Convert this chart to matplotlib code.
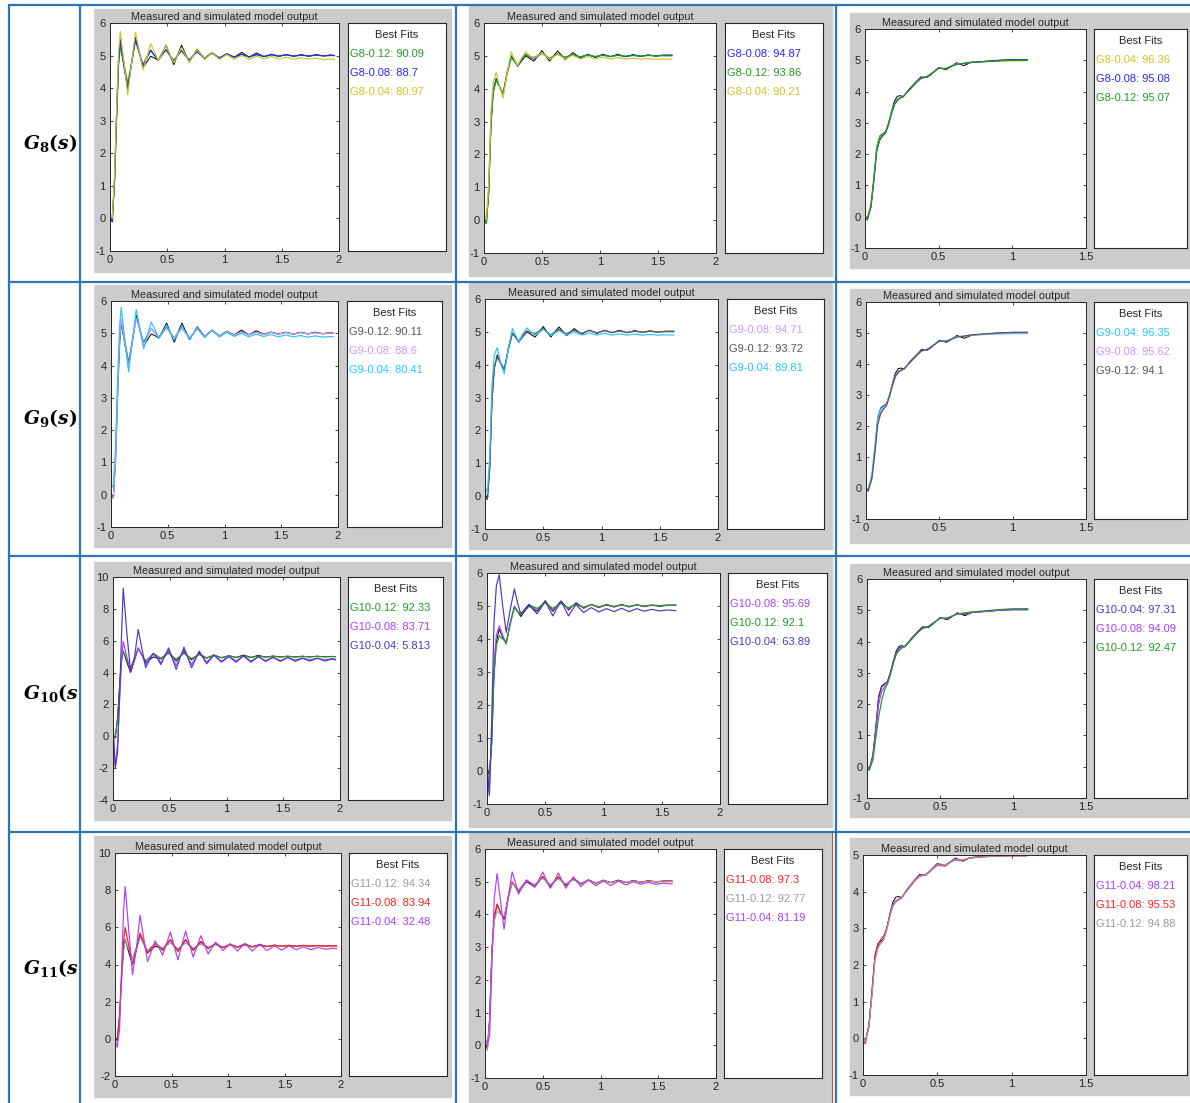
import matplotlib.pyplot as plt
from matplotlib.patches import Rectangle

W, H = 1190, 1103

# ---- data ----
models = ['G8', 'G9', 'G10', 'G11']
steps = ['0.12', '0.08', '0.04']

# time grids (s) of the three columns
t_col1 = [0.0, 0.02, 0.04, 0.06, 0.075, 0.09, 0.122, 0.155, 0.19, 0.222, 0.255, 0.288, 0.322, 0.355, 0.39, 0.422,
          0.455, 0.49, 0.523, 0.557, 0.59, 0.625, 0.658, 0.692, 0.726, 0.76, 0.792, 0.825, 0.857, 0.89,
          0.955, 1.02, 1.085, 1.15, 1.215, 1.28, 1.345, 1.41, 1.475, 1.54, 1.605, 1.67, 1.735, 1.80, 1.865, 1.93, 1.96]
t_col2 = [0.0, 0.02, 0.04, 0.06, 0.08, 0.105, 0.135, 0.165, 0.2, 0.235, 0.262, 0.29, 0.325, 0.36, 0.395, 0.43,
          0.465, 0.5, 0.532, 0.565, 0.6, 0.635, 0.668, 0.7, 0.732, 0.765, 0.797, 0.83, 0.862, 0.895,
          0.96, 1.025, 1.09, 1.155, 1.22, 1.285, 1.35, 1.415, 1.48, 1.545, 1.62]
t_col3 = [0.0, 0.015, 0.04, 0.06, 0.08, 0.1, 0.12, 0.14, 0.16, 0.18,
          0.2, 0.22, 0.24, 0.26, 0.3, 0.35, 0.38, 0.42, 0.45, 0.5,
          0.55, 0.6, 0.62, 0.67, 0.72, 0.8, 0.9, 1.0, 1.1]

# measured output (black), same in every row of a column
meas_c1 = [0.05, -0.1, 1.2, 3.4, 4.8, 5.35, 4.65, 4.0, 4.8, 5.55, 5.1, 4.63, 4.8, 4.98, 4.92, 4.85,
           5.08, 5.32, 5.02, 4.72, 5.02, 5.32, 5.06, 4.8, 5.0, 5.2, 5.05, 4.9, 5.0, 5.1,
           4.92, 5.06, 4.95, 5.1, 4.95, 5.08, 4.97, 5.04, 4.98, 5.03, 4.98, 5.03, 4.98, 5.03, 4.99, 5.02, 5.0]
meas_c2 = [0.1, -0.1, 0.8, 2.9, 3.9, 4.3, 4.05, 3.85, 4.5, 4.97, 4.85, 4.68, 4.85, 5.0, 4.92, 4.84,
           5.0, 5.16, 5.0, 4.84, 5.0, 5.15, 5.02, 4.88, 4.99, 5.1, 5.02, 4.93, 4.99, 5.05,
           4.95, 5.05, 4.97, 5.05, 4.97, 5.04, 4.98, 5.03, 4.99, 5.02, 5.02]
meas_c3 = [0.0, -0.1, 0.35, 1.2, 2.25, 2.58, 2.65, 2.72, 3.0, 3.37,
           3.7, 3.85, 3.87, 3.83, 4.08, 4.33, 4.47, 4.45, 4.55, 4.77,
           4.7, 4.85, 4.92, 4.83, 4.93, 4.96, 5.0, 5.02, 5.02]

# --- G8 ---
g8_c1_012 = [0.05, 0.0, 1.1, 3.3, 4.7, 5.3, 4.75, 4.15, 4.8, 5.45, 5.1, 4.73, 4.95, 5.15, 5.0, 4.87,
             5.03, 5.18, 5.0, 4.85, 5.0, 5.15, 5.0, 4.86, 5.0, 5.13, 5.02, 4.9, 4.99, 5.08,
             4.92, 5.05, 4.95, 5.04, 4.96, 5.03, 4.97, 5.02, 4.98, 5.02, 4.98, 5.01, 4.99, 5.01, 4.99, 5.0, 5.0]
g8_c1_008 = [0.0, -0.1, 1.2, 3.5, 4.9, 5.5, 4.7, 3.95, 4.8, 5.5, 5.1, 4.68, 4.93, 5.17, 5.0, 4.85,
             5.02, 5.18, 5.01, 4.84, 5.0, 5.15, 5.0, 4.86, 4.99, 5.12, 5.01, 4.9, 4.99, 5.07,
             4.93, 5.04, 4.95, 5.04, 4.96, 5.03, 4.97, 5.03, 4.98, 5.03, 4.98, 5.02, 4.98, 5.02, 4.99, 5.01, 5.0]
g8_c1_004 = [0.2, 0.0, 1.4, 3.7, 5.1, 5.75, 4.8, 3.8, 4.8, 5.72, 5.15, 4.56, 4.95, 5.37, 5.1, 4.84,
             5.07, 5.3, 5.04, 4.78, 5.01, 5.25, 5.02, 4.8, 5.0, 5.2, 5.03, 4.87, 4.98, 5.1,
             4.88, 5.03, 4.89, 5.0, 4.88, 4.98, 4.9, 4.97, 4.9, 4.95, 4.89, 4.93, 4.89, 4.92, 4.88, 4.89, 4.88]
g8_c2_012 = [0.0, -0.1, 0.8, 2.9, 3.9, 4.25, 4.05, 3.85, 4.45, 4.95, 4.83, 4.72, 4.9, 5.02, 4.98, 4.95,
             5.02, 5.08, 5.0, 4.92, 4.99, 5.06, 5.0, 4.95, 5.0, 5.04, 5.0, 4.97, 5.0, 5.03,
             4.98, 5.02, 4.98, 5.02, 4.99, 5.01, 4.99, 5.01, 5.0, 5.0, 5.0]
g8_c2_008 = [0.0, -0.05, 0.9, 3.0, 4.0, 4.3, 4.05, 3.85, 4.5, 5.0, 4.85, 4.7, 4.88, 5.05, 4.97, 4.9,
             4.99, 5.08, 5.0, 4.92, 4.99, 5.06, 5.0, 4.95, 5.0, 5.04, 5.0, 4.96, 5.0, 5.03,
             4.97, 5.03, 4.98, 5.02, 4.98, 5.02, 4.99, 5.02, 5.0, 5.02, 5.02]
g8_c2_004 = [0.3, 0.0, 1.1, 3.3, 4.2, 4.5, 4.05, 3.72, 4.5, 5.12, 4.9, 4.7, 4.95, 5.12, 5.0, 4.92,
             5.01, 5.1, 5.0, 4.9, 4.97, 5.05, 4.98, 4.9, 4.96, 5.02, 4.96, 4.9, 4.94, 4.98,
             4.9, 4.97, 4.9, 4.95, 4.9, 4.93, 4.9, 4.92, 4.9, 4.9, 4.9]
g8_c3_012 = [0.05, -0.08, 0.3, 1.15, 2.15, 2.5, 2.6, 2.68, 2.95, 3.3,
             3.6, 3.75, 3.8, 3.85, 4.05, 4.3, 4.43, 4.47, 4.57, 4.74,
             4.73, 4.84, 4.87, 4.9, 4.93, 4.95, 4.98, 5.0, 5.0]
g8_c3_008 = [0.0, -0.1, 0.3, 1.15, 2.1, 2.45, 2.58, 2.68, 2.95, 3.3,
             3.58, 3.72, 3.8, 3.85, 4.05, 4.3, 4.42, 4.47, 4.57, 4.75,
             4.73, 4.83, 4.87, 4.9, 4.94, 4.96, 4.99, 5.01, 5.02]
g8_c3_004 = [0.05, -0.05, 0.4, 1.3, 2.25, 2.55, 2.62, 2.7, 3.0, 3.35,
             3.62, 3.75, 3.8, 3.85, 4.05, 4.3, 4.42, 4.48, 4.58, 4.75,
             4.75, 4.85, 4.88, 4.9, 4.93, 4.95, 4.97, 4.98, 4.98]

# --- G9 ---
g9_c1_012 = [0.0, -0.1, 1.0, 3.2, 4.6, 5.3, 4.75, 4.1, 4.8, 5.5, 5.1, 4.72, 4.95, 5.15, 5.0, 4.87,
             5.03, 5.2, 5.02, 4.85, 5.02, 5.2, 5.02, 4.85, 5.0, 5.15, 5.02, 4.9, 4.99, 5.08,
             4.92, 5.06, 4.95, 5.05, 4.96, 5.04, 4.96, 5.03, 4.97, 5.03, 4.97, 5.03, 4.98, 5.03, 4.98, 5.02, 5.0]
g9_c1_008 = [-0.1, -0.1, 1.1, 3.4, 4.8, 5.45, 4.7, 3.95, 4.8, 5.45, 5.1, 4.65, 4.9, 5.15, 5.0, 4.85,
             5.0, 5.15, 5.0, 4.85, 5.0, 5.15, 5.0, 4.86, 4.99, 5.12, 5.01, 4.9, 4.99, 5.08,
             4.92, 5.05, 4.94, 5.04, 4.95, 5.03, 4.96, 5.03, 4.97, 5.02, 4.98, 5.02, 4.98, 5.01, 4.99, 5.01, 5.0]
g9_c1_004 = [0.2, 0.3, 1.5, 3.8, 5.2, 5.8, 4.8, 3.8, 4.8, 5.73, 5.15, 4.52, 4.95, 5.35, 5.1, 4.84,
             5.05, 5.25, 5.02, 4.8, 5.01, 5.22, 5.02, 4.82, 5.0, 5.18, 5.02, 4.86, 4.98, 5.1,
             4.88, 5.03, 4.9, 5.0, 4.89, 4.98, 4.9, 4.96, 4.89, 4.95, 4.89, 4.93, 4.88, 4.92, 4.88, 4.9, 4.89]
g9_c2_012 = [0.0, -0.1, 0.8, 2.9, 3.9, 4.25, 4.05, 3.85, 4.45, 4.95, 4.83, 4.72, 4.9, 5.02, 4.98, 4.95,
             5.02, 5.1, 5.0, 4.9, 4.99, 5.08, 5.0, 4.93, 5.0, 5.06, 5.0, 4.95, 5.0, 5.05,
             4.97, 5.04, 4.98, 5.03, 4.98, 5.02, 4.99, 5.02, 5.0, 5.01, 5.01]
g9_c2_008 = [-0.1, -0.1, 0.9, 3.0, 4.0, 4.2, 4.0, 3.8, 4.45, 4.95, 4.83, 4.7, 4.88, 5.05, 4.97, 4.9,
             4.99, 5.08, 5.0, 4.92, 4.99, 5.06, 5.0, 4.95, 5.0, 5.04, 5.0, 4.96, 5.0, 5.03,
             4.97, 5.03, 4.98, 5.02, 4.98, 5.01, 4.99, 5.01, 5.0, 5.0, 5.0]
g9_c2_004 = [0.3, 0.1, 1.2, 3.4, 4.3, 4.52, 4.05, 3.72, 4.5, 5.1, 4.9, 4.7, 4.95, 5.12, 5.0, 4.9,
             4.99, 5.08, 4.98, 4.88, 4.96, 5.04, 4.97, 4.9, 4.95, 5.0, 4.95, 4.9, 4.93, 4.97,
             4.9, 4.96, 4.9, 4.94, 4.9, 4.93, 4.9, 4.92, 4.9, 4.91, 4.9]
g9_c3_012 = [0.0, -0.1, 0.3, 1.1, 2.05, 2.4, 2.55, 2.66, 2.95, 3.3,
             3.6, 3.75, 3.8, 3.85, 4.05, 4.3, 4.43, 4.47, 4.57, 4.74,
             4.73, 4.84, 4.87, 4.9, 4.94, 4.97, 5.0, 5.02, 5.02]
g9_c3_008 = [0.0, -0.1, 0.3, 1.15, 2.1, 2.45, 2.58, 2.68, 2.95, 3.3,
             3.58, 3.7, 3.78, 3.83, 4.05, 4.3, 4.42, 4.47, 4.57, 4.73,
             4.73, 4.83, 4.87, 4.9, 4.93, 4.96, 4.99, 5.0, 5.0]
g9_c3_004 = [0.0, -0.05, 0.45, 1.35, 2.3, 2.55, 2.62, 2.7, 3.0, 3.35,
             3.62, 3.75, 3.8, 3.85, 4.05, 4.32, 4.43, 4.48, 4.58, 4.75,
             4.75, 4.85, 4.88, 4.9, 4.93, 4.95, 4.97, 4.98, 4.98]

# --- G10 ---
g10_c1_012 = [0.0, 0.0, 1.0, 3.3, 4.7, 5.35, 4.8, 4.3, 4.9, 5.5, 5.1, 4.75, 4.95, 5.2, 5.05, 4.9,
              5.05, 5.2, 5.02, 4.85, 5.02, 5.2, 5.04, 4.88, 5.0, 5.12, 5.02, 4.92, 5.0, 5.08,
              4.94, 5.05, 4.95, 5.04, 4.96, 5.03, 4.97, 5.02, 4.98, 5.02, 4.98, 5.01, 4.99, 5.01, 4.99, 5.0, 5.0]
g10_c1_008 = [0.0, -1.9, -0.5, 2.5, 4.8, 5.95, 5.0, 4.05, 4.8, 5.55, 5.1, 4.5, 4.9, 5.2, 4.95, 4.6,
              5.0, 5.4, 4.92, 4.45, 4.95, 5.45, 4.98, 4.5, 4.9, 5.3, 4.97, 4.65, 4.88, 5.1,
              4.7, 5.05, 4.72, 5.05, 4.72, 5.0, 4.75, 4.97, 4.75, 4.95, 4.78, 4.92, 4.8, 4.9, 4.8, 4.87, 4.85]
g10_c1_004 = [1.0, -2.0, -1.0, 3.0, 6.3, 9.3, 6.5, 4.05, 5.0, 6.7, 5.5, 4.3, 4.8, 5.2, 4.9, 4.5,
              5.02, 5.55, 4.88, 4.2, 4.9, 5.6, 4.95, 4.3, 4.82, 5.35, 4.95, 4.55, 4.82, 5.1,
              4.65, 5.0, 4.65, 5.05, 4.65, 5.0, 4.7, 4.95, 4.7, 4.95, 4.7, 4.9, 4.72, 4.9, 4.72, 4.85, 4.8]
g10_c2_012 = [0.0, -0.1, 0.8, 2.9, 3.8, 4.1, 4.0, 3.9, 4.45, 4.95, 4.83, 4.75, 4.9, 5.03, 4.98, 4.93,
              5.01, 5.1, 5.01, 4.93, 5.0, 5.08, 5.01, 4.95, 5.0, 5.05, 5.01, 4.97, 5.0, 5.04,
              4.98, 5.03, 4.99, 5.03, 4.99, 5.03, 5.0, 5.03, 5.01, 5.03, 5.03]
g10_c2_008 = [0.0, -0.7, 1.0, 3.3, 4.1, 4.4, 4.1, 3.88, 4.5, 5.0, 4.85, 4.75, 4.9, 5.05, 4.97, 4.9,
              5.0, 5.12, 5.0, 4.9, 5.0, 5.1, 5.0, 4.92, 4.99, 5.06, 5.0, 4.95, 5.0, 5.04,
              4.96, 5.03, 4.97, 5.03, 4.98, 5.03, 4.99, 5.02, 5.0, 5.02, 5.02]
g10_c2_004 = [0.4, -0.75, 1.5, 4.5, 5.6, 5.95, 5.0, 4.2, 4.9, 5.52, 5.1, 4.76, 4.9, 5.05, 4.9, 4.76,
              4.95, 5.15, 4.92, 4.7, 4.93, 5.15, 4.92, 4.7, 4.88, 5.05, 4.92, 4.8, 4.88, 4.95,
              4.82, 4.92, 4.83, 4.93, 4.83, 4.92, 4.84, 4.9, 4.85, 4.88, 4.86]
g10_c3_012 = [0.0, -0.12, 0.2, 0.9, 1.6, 2.1, 2.45, 2.65, 2.95, 3.3,
              3.6, 3.72, 3.8, 3.85, 4.05, 4.3, 4.42, 4.48, 4.58, 4.75,
              4.75, 4.85, 4.88, 4.92, 4.95, 4.98, 5.02, 5.05, 5.05]
g10_c3_008 = [0.0, -0.1, 0.3, 1.1, 2.0, 2.4, 2.55, 2.65, 2.95, 3.3,
              3.6, 3.72, 3.8, 3.85, 4.05, 4.3, 4.42, 4.48, 4.58, 4.75,
              4.75, 4.85, 4.88, 4.9, 4.93, 4.96, 5.0, 5.03, 5.05]
g10_c3_004 = [0.0, -0.08, 0.35, 1.25, 2.2, 2.55, 2.63, 2.72, 3.0, 3.35,
              3.65, 3.8, 3.83, 3.85, 4.07, 4.32, 4.45, 4.47, 4.57, 4.75,
              4.72, 4.85, 4.9, 4.87, 4.93, 4.96, 5.0, 5.02, 5.02]

# --- G11 ---
g11_c1_012 = [0.1, 0.0, 1.1, 3.3, 4.7, 5.3, 4.8, 4.3, 4.9, 5.5, 5.1, 4.75, 4.95, 5.15, 5.0, 4.88,
              5.02, 5.15, 5.0, 4.85, 5.0, 5.15, 5.02, 4.88, 4.99, 5.1, 5.01, 4.92, 4.99, 5.06,
              4.94, 5.04, 4.95, 5.03, 4.97, 5.02, 4.97, 5.02, 4.98, 5.01, 4.98, 5.01, 4.99, 5.01, 4.99, 5.0, 5.0]
g11_c1_008 = [0.0, 0.0, 1.3, 3.7, 5.2, 6.0, 5.0, 4.0, 4.9, 5.7, 5.2, 4.6, 4.9, 5.1, 4.95, 4.75,
              5.05, 5.35, 5.02, 4.7, 5.02, 5.35, 5.05, 4.75, 5.0, 5.25, 5.05, 4.85, 5.0, 5.15,
              4.9, 5.1, 4.92, 5.08, 4.94, 5.06, 4.96, 5.04, 4.98, 5.03, 4.98, 5.03, 4.99, 5.02, 4.99, 5.01, 5.0]
g11_c1_004 = [0.0, -0.45, 0.5, 4.0, 6.8, 8.2, 5.8, 3.45, 4.9, 6.65, 5.4, 4.15, 4.7, 5.27, 4.9, 4.5,
              5.1, 5.75, 5.0, 4.25, 5.02, 5.8, 5.1, 4.4, 4.98, 5.55, 5.06, 4.57, 4.88, 5.2,
              4.75, 5.12, 4.72, 5.15, 4.72, 5.1, 4.75, 5.0, 4.78, 5.0, 4.8, 4.95, 4.8, 4.92, 4.82, 4.88, 4.85]
g11_c2_012 = [-0.1, -0.15, 0.7, 2.8, 3.8, 4.1, 4.0, 3.95, 4.45, 4.95, 4.85, 4.75, 4.9, 5.03, 4.97, 4.92,
              5.01, 5.1, 5.01, 4.92, 5.0, 5.08, 5.01, 4.94, 5.0, 5.05, 5.0, 4.96, 5.0, 5.04,
              4.97, 5.03, 4.98, 5.02, 4.98, 5.02, 4.99, 5.01, 5.0, 5.0, 5.0]
g11_c2_008 = [0.0, -0.1, 0.8, 2.9, 3.95, 4.32, 4.05, 3.88, 4.5, 5.0, 4.85, 4.7, 4.88, 5.05, 4.97, 4.88,
              5.0, 5.15, 5.01, 4.87, 5.01, 5.15, 5.02, 4.9, 5.0, 5.1, 5.02, 4.94, 5.0, 5.06,
              4.96, 5.04, 4.97, 5.04, 4.98, 5.03, 4.99, 5.03, 5.0, 5.02, 5.02]
g11_c2_004 = [0.2, 0.05, 0.3, 2.5, 4.5, 5.25, 4.4, 3.55, 4.5, 5.3, 5.0, 4.62, 4.85, 5.05, 4.95, 4.83,
              5.05, 5.3, 5.05, 4.8, 5.02, 5.27, 5.02, 4.8, 4.98, 5.15, 5.0, 4.85, 4.96, 5.05,
              4.88, 5.02, 4.88, 5.02, 4.9, 5.0, 4.92, 4.98, 4.92, 4.96, 4.93]
g11_c3_012 = [0.05, -0.1, 0.3, 1.15, 2.1, 2.45, 2.6, 2.7, 2.95, 3.3,
              3.6, 3.72, 3.78, 3.83, 4.05, 4.3, 4.42, 4.46, 4.56, 4.73,
              4.72, 4.83, 4.86, 4.87, 4.92, 4.95, 4.97, 4.98, 4.98]
g11_c3_008 = [0.0, -0.15, 0.35, 1.3, 2.2, 2.55, 2.7, 2.8, 3.0, 3.35,
              3.6, 3.72, 3.78, 3.83, 4.05, 4.3, 4.42, 4.45, 4.55, 4.72,
              4.7, 4.83, 4.86, 4.85, 4.92, 4.95, 4.97, 4.98, 4.98]
g11_c3_004 = [0.0, -0.1, 0.35, 1.25, 2.2, 2.5, 2.6, 2.7, 3.0, 3.35,
              3.65, 3.75, 3.8, 3.85, 4.07, 4.33, 4.45, 4.47, 4.57, 4.77,
              4.72, 4.85, 4.9, 4.85, 4.92, 4.95, 4.98, 4.98, 4.98]

# best-fit scores [column][0.12, 0.08, 0.04]
g8_fit = [[90.09, 88.7, 80.97], [93.86, 94.87, 90.21], [95.07, 95.08, 96.36]]
g9_fit = [[90.11, 88.6, 80.41], [93.72, 94.71, 89.81], [94.1, 95.62, 96.35]]
g10_fit = [[92.33, 83.71, 5.813], [92.1, 95.69, 63.89], [92.47, 94.09, 97.31]]
g11_fit = [[94.34, 83.94, 32.48], [92.77, 97.3, 81.19], [94.88, 95.53, 98.21]]

# ---- assembling ----
times = [t_col1, t_col2, t_col3]
measured = [meas_c1, meas_c2, meas_c3]
curves = [
    [[g8_c1_012, g8_c1_008, g8_c1_004], [g8_c2_012, g8_c2_008, g8_c2_004], [g8_c3_012, g8_c3_008, g8_c3_004]],
    [[g9_c1_012, g9_c1_008, g9_c1_004], [g9_c2_012, g9_c2_008, g9_c2_004], [g9_c3_012, g9_c3_008, g9_c3_004]],
    [[g10_c1_012, g10_c1_008, g10_c1_004], [g10_c2_012, g10_c2_008, g10_c2_004], [g10_c3_012, g10_c3_008, g10_c3_004]],
    [[g11_c1_012, g11_c1_008, g11_c1_004], [g11_c2_012, g11_c2_008, g11_c2_004], [g11_c3_012, g11_c3_008, g11_c3_004]],
]
fits = [g8_fit, g9_fit, g10_fit, g11_fit]

# line colours per model for 0.12 / 0.08 / 0.04
colors = [
    ['#1E9E1E', '#2626FF', '#CFC623'],
    ['#555555', '#CC99FF', '#22C8FF'],
    ['#1E9E1E', '#B03CFF', '#4E36C4'],
    ['#9A9A9A', '#FF1E1E', '#B03CFF'],
]

# pixel boxes (x0, y0, x1, y1): grey panel, axes, legend box
layout = [
    [((94, 9, 451, 272), (110, 23, 339, 251), (348, 23, 446, 251)),
     ((469, 6, 832, 276), (484, 23, 716, 253), (725, 23, 823, 253)),
     ((850, 13, 1190, 268), (865, 29, 1086, 248), (1094, 29, 1187, 248))],
    [((94, 285, 451, 547), (111, 301, 338, 527), (347, 301, 442, 527)),
     ((469, 283, 832, 549), (485, 299, 718, 529), (727, 299, 824, 529)),
     ((850, 289, 1190, 543), (866, 302, 1086, 519), (1094, 302, 1187, 519))],
    [((94, 562, 451, 820), (113, 577, 340, 800), (348, 577, 443, 800)),
     ((469, 557, 832, 827), (487, 573, 720, 804), (728, 573, 827, 804)),
     ((850, 564, 1190, 817), (867, 579, 1086, 798), (1094, 579, 1187, 798))],
    [((94, 836, 451, 1097), (115, 853, 341, 1076), (349, 853, 447, 1076)),
     ((469, 833, 832, 1103), (485, 849, 716, 1078), (724, 849, 822, 1078)),
     ((850, 838, 1190, 1095), (863, 855, 1086, 1075), (1094, 855, 1187, 1075))],
]
ylims = [[(-1, 6), (-1, 6), (-1, 6)],
         [(-1, 6), (-1, 6), (-1, 6)],
         [(-4, 10), (-1, 6), (-1, 6)],
         [(-2, 10), (-1, 6), (-1, 5)]]
xlims = [(0, 2), (0, 2), (0, 1.5)]
label_y = [143, 418, 693, 968]

plt.rcParams['font.family'] = ['Liberation Sans', 'DejaVu Sans']
plt.rcParams['mathtext.fontset'] = 'dejavuserif'

fig = plt.figure(figsize=(W / 100, H / 100), dpi=100)
bg = fig.add_axes([0, 0, 1, 1])
bg.set_xlim(0, W)
bg.set_ylim(H, 0)
bg.axis('off')


def frac(box):
    x0, y0, x1, y1 = box
    return [x0 / W, 1 - y1 / H, (x1 - x0) / W, (y1 - y0) / H]


# row labels, cut at the cell border like in the table
for r, m in enumerate(models):
    num = m[1:]
    lab = r'$\mathbfit{G}_{\mathbf{' + num + r'}}\mathbf{(}\mathbfit{s}\mathbf{)}$'
    bg.text(23, label_y[r], lab, fontsize=13.5, ha='left', va='center', zorder=2)
bg.add_patch(Rectangle((81, 0), 12, H, color='white', zorder=3))

# table lines
blue = '#2E75B6'
for x in [9, 80, 456, 836]:
    bg.plot([x, x], [4, H], color=blue, lw=1.6, zorder=5, solid_capstyle='butt')
for y in [5, 282, 556, 832]:
    bg.plot([9, W], [y, y], color=blue, lw=1.6, zorder=5, solid_capstyle='butt')
bg.plot([832, 832], [833, H], color='#C0504D', lw=0.8, zorder=5)

dark = '#262626'
for r, m in enumerate(models):
    for c in range(3):
        grey, axbox, legbox = layout[r][c]
        bg.add_patch(Rectangle((grey[0], grey[1]), grey[2] - grey[0], grey[3] - grey[1],
                               color='#CCCCCC', zorder=1))

        ax = fig.add_axes(frac(axbox))
        ax.plot(times[c], measured[c], color='black', lw=0.7)
        order = sorted(range(3), key=lambda i: -fits[r][c][i])
        for i in order:
            ax.plot(times[c], curves[r][c][i], color=colors[r][i], lw=0.85)
        ax.set_xlim(*xlims[c])
        ax.set_ylim(*ylims[r][c])
        xt = [0, 0.5, 1, 1.5, 2] if c < 2 else [0, 0.5, 1, 1.5]
        lo, hi = ylims[r][c]
        yt = list(range(lo, hi + 1, 2 if hi - lo > 8 else 1))
        ax.set_xticks(xt)
        ax.set_xticklabels(['%g' % v for v in xt])
        ax.set_yticks(yt)
        ax.set_yticklabels(['%g' % v for v in yt])
        ax.tick_params(direction='in', length=2.5, width=0.6, top=True, right=True,
                       labelsize=8, pad=3, labelcolor=dark, color=dark)
        for s in ax.spines.values():
            s.set_linewidth(0.7)
            s.set_color(dark)
        ax.set_title('Measured and simulated model output', fontsize=7.8, pad=2, color=dark)

        lg = fig.add_axes(frac(legbox))
        lg.set_xticks([])
        lg.set_yticks([])
        for s in lg.spines.values():
            s.set_linewidth(0.8)
            s.set_color(dark)
        lw_px = legbox[2] - legbox[0]
        lh_px = legbox[3] - legbox[1]
        lg.text(0.5, 1 - 12 / lh_px, 'Best Fits', transform=lg.transAxes,
                ha='center', va='center', fontsize=8, color=dark)
        for k, i in enumerate(order):
            txt = '%s-%s: %.4g' % (m, steps[i], fits[r][c][i])
            lg.text(2 / lw_px, 1 - (31 + 19 * k) / lh_px, txt, transform=lg.transAxes,
                    ha='left', va='center', fontsize=8, color=colors[r][i])

fig.savefig('out.png', dpi=100)
